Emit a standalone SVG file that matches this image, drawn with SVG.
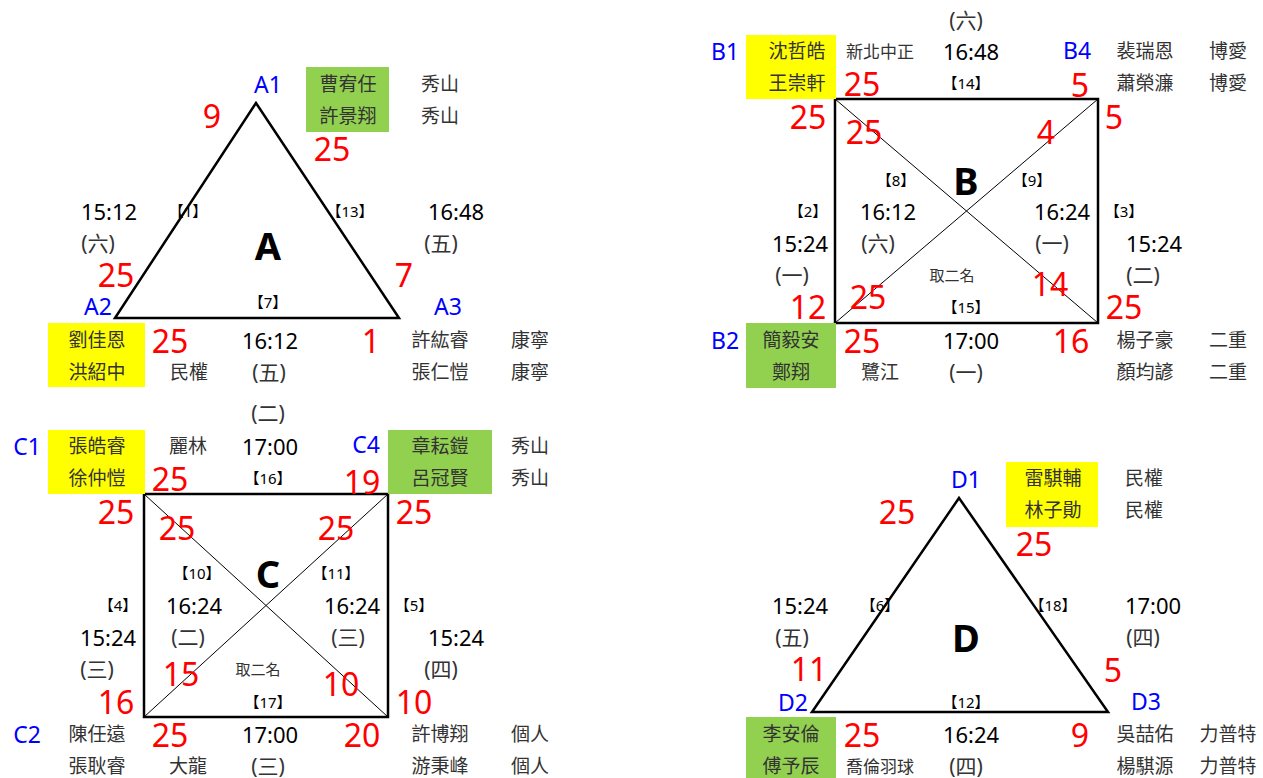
<svg xmlns="http://www.w3.org/2000/svg" width="1263" height="778" viewBox="0 0 1263 778">
<style>
text{font-family:"Noto Sans","Noto Sans CJK TC",sans-serif;text-anchor:middle;dominant-baseline:central}
.t{font-size:22px;fill:#000}
.p{font-size:21px;fill:#333}
.n{font-size:19px;fill:#333}
.r{font-size:32px;fill:#ff0000}
.b{font-size:23px;fill:#0000ff}
.s{font-size:15px;fill:#000}
.m{font-size:15px;fill:#333}
.big{font-size:38px;font-weight:bold;fill:#000}
.shape{fill:none;stroke:#000;stroke-width:2.5}
.diag{stroke:#000;stroke-width:1}
.y{fill:#ffff00}
.g{fill:#92d050}
</style>
<rect width="1263" height="778" fill="#fff"/>

<g id="connectors">
<polygon class="shape" points="256,103 115,318 399,318"/>
<rect class="shape" x="835" y="99" width="263" height="224"/>
<line class="diag" x1="835" y1="99" x2="1098" y2="323"/>
<line class="diag" x1="1098" y1="99" x2="835" y2="323"/>
<rect class="shape" x="144" y="494" width="244" height="223"/>
<line class="diag" x1="144" y1="494" x2="388" y2="717"/>
<line class="diag" x1="388" y1="494" x2="144" y2="717"/>
<polygon class="shape" points="959,498 812,712 1108,712"/>
</g>

<g id="poolA">
<text class="big" x="268" y="245">A</text>
<text class="b" x="268" y="84">A1</text>
<rect class="g" x="306" y="67" width="83" height="65"/>
<text class="n" x="348" y="84">曹宥任</text>
<text class="n" x="348" y="116">許景翔</text>
<text class="n" x="440" y="84">秀山</text>
<text class="n" x="440" y="116">秀山</text>
<text class="r" x="212" y="115">9</text>
<text class="r" x="332" y="148">25</text>
<text class="t" x="109" y="211">15:12</text>
<text class="p" x="98" y="243">(六)</text>
<text class="s" x="188" y="211">【1】</text>
<text class="s" x="350" y="211">【13】</text>
<text class="t" x="456" y="211">16:48</text>
<text class="p" x="441" y="243">(五)</text>
<text class="r" x="116" y="274">25</text>
<text class="r" x="404" y="274">7</text>
<text class="b" x="98" y="306">A2</text>
<text class="b" x="448" y="306">A3</text>
<text class="s" x="268" y="302">【7】</text>
<rect class="y" x="48" y="323" width="97" height="64"/>
<text class="n" x="97" y="340">劉佳恩</text>
<text class="n" x="97" y="372">洪紹中</text>
<text class="r" x="170" y="340">25</text>
<text class="t" x="270" y="340">16:12</text>
<text class="n" x="189" y="372">民權</text>
<text class="p" x="269" y="372">(五)</text>
<text class="r" x="371" y="340">1</text>
<text class="n" x="440" y="340">許紘睿</text>
<text class="n" x="440" y="372">張仁愷</text>
<text class="n" x="530" y="340">康寧</text>
<text class="n" x="530" y="372">康寧</text>
</g>

<g id="poolB">
<text class="big" x="966" y="180">B</text>
<text class="p" x="966" y="20">(六)</text>
<text class="b" x="725" y="51">B1</text>
<rect class="y" x="746" y="35" width="90" height="64"/>
<text class="n" x="797" y="51">沈哲皓</text>
<text class="n" x="797" y="83">王崇軒</text>
<text class="m" x="880" y="51" style="font-size:17px">新北中正</text>
<text class="t" x="971" y="51">16:48</text>
<text class="b" x="1077" y="50">B4</text>
<text class="n" x="1145" y="51">裴瑞恩</text>
<text class="n" x="1228" y="51">博愛</text>
<text class="r" x="862" y="83">25</text>
<text class="s" x="966" y="83">【14】</text>
<text class="r" x="1080" y="84">5</text>
<text class="n" x="1145" y="83">蕭榮濂</text>
<text class="n" x="1228" y="83">博愛</text>
<text class="r" x="808" y="116">25</text>
<text class="r" x="864" y="131">25</text>
<text class="r" x="1046" y="131">4</text>
<text class="r" x="1114" y="116">5</text>
<text class="s" x="896" y="180">【8】</text>
<text class="s" x="1032" y="180">【9】</text>
<text class="s" x="808" y="211">【2】</text>
<text class="t" x="888" y="211">16:12</text>
<text class="t" x="1062" y="211">16:24</text>
<text class="s" x="1124" y="211">【3】</text>
<text class="t" x="800" y="243">15:24</text>
<text class="p" x="878" y="243">(六)</text>
<text class="p" x="1052" y="243">(一)</text>
<text class="t" x="1154" y="243">15:24</text>
<text class="p" x="792" y="275">(一)</text>
<text class="m" x="952" y="275">取二名</text>
<text class="r" x="1050" y="283">14</text>
<text class="p" x="1143" y="275">(二)</text>
<text class="r" x="808" y="306">12</text>
<text class="r" x="868" y="296">25</text>
<text class="s" x="966" y="307">【15】</text>
<text class="r" x="1124" y="306">25</text>
<text class="b" x="725" y="340">B2</text>
<rect class="g" x="746" y="323" width="90" height="65"/>
<text class="n" x="791" y="340">簡毅安</text>
<text class="n" x="791" y="372">鄭翔</text>
<text class="r" x="862" y="340">25</text>
<text class="t" x="971" y="340">17:00</text>
<text class="r" x="1071" y="340">16</text>
<text class="n" x="1145" y="340">楊子豪</text>
<text class="n" x="1228" y="340">二重</text>
<text class="n" x="880" y="372">鷺江</text>
<text class="p" x="966" y="372">(一)</text>
<text class="n" x="1145" y="372">顏均諺</text>
<text class="n" x="1228" y="372">二重</text>
</g>

<g id="poolC">
<text class="big" x="268" y="573">C</text>
<text class="p" x="268" y="413">(二)</text>
<text class="b" x="27" y="446">C1</text>
<rect class="y" x="48" y="430" width="97" height="64"/>
<text class="n" x="97" y="446">張皓睿</text>
<text class="n" x="97" y="478">徐仲愷</text>
<text class="n" x="188" y="446">麗林</text>
<text class="t" x="270" y="446">17:00</text>
<text class="b" x="366" y="444">C4</text>
<rect class="g" x="388" y="430" width="104" height="64"/>
<text class="n" x="440" y="446">章耘鎧</text>
<text class="n" x="440" y="478">呂冠賢</text>
<text class="n" x="530" y="446">秀山</text>
<text class="n" x="530" y="478">秀山</text>
<text class="r" x="170" y="478">25</text>
<text class="s" x="268" y="478">【16】</text>
<text class="r" x="362" y="481">19</text>
<text class="r" x="116" y="511">25</text>
<text class="r" x="177" y="527">25</text>
<text class="r" x="336" y="527">25</text>
<text class="r" x="414" y="511">25</text>
<text class="s" x="197" y="573">【10】</text>
<text class="s" x="336" y="573">【11】</text>
<text class="s" x="118" y="605">【4】</text>
<text class="t" x="194" y="605">16:24</text>
<text class="t" x="352" y="605">16:24</text>
<text class="s" x="414" y="605">【5】</text>
<text class="t" x="108" y="637">15:24</text>
<text class="p" x="188" y="637">(二)</text>
<text class="p" x="348" y="637">(三)</text>
<text class="t" x="456" y="637">15:24</text>
<text class="p" x="97" y="669">(三)</text>
<text class="r" x="181" y="673">15</text>
<text class="m" x="258" y="669">取二名</text>
<text class="r" x="341" y="683">10</text>
<text class="p" x="441" y="669">(四)</text>
<text class="r" x="116" y="701">16</text>
<text class="s" x="268" y="702">【17】</text>
<text class="r" x="414" y="701">10</text>
<text class="b" x="27" y="734">C2</text>
<text class="n" x="97" y="734">陳任遠</text>
<text class="r" x="170" y="734">25</text>
<text class="t" x="270" y="734">17:00</text>
<text class="r" x="362" y="734">20</text>
<text class="n" x="440" y="734">許博翔</text>
<text class="n" x="530" y="734">個人</text>
<text class="n" x="97" y="766">張耿睿</text>
<text class="n" x="188" y="766">大龍</text>
<text class="p" x="268" y="766">(三)</text>
<text class="n" x="440" y="766">游秉峰</text>
<text class="n" x="530" y="766">個人</text>
</g>

<g id="poolD">
<text class="big" x="966" y="637">D</text>
<text class="b" x="966" y="479">D1</text>
<rect class="y" x="1006" y="462" width="92" height="65"/>
<text class="n" x="1053" y="478">雷騏輔</text>
<text class="n" x="1053" y="510">林子勛</text>
<text class="n" x="1144" y="478">民權</text>
<text class="n" x="1144" y="510">民權</text>
<text class="r" x="897" y="511">25</text>
<text class="r" x="1034" y="543">25</text>
<text class="t" x="800" y="605">15:24</text>
<text class="s" x="880" y="605">【6】</text>
<text class="s" x="1053" y="605">【18】</text>
<text class="t" x="1153" y="605">17:00</text>
<text class="p" x="792" y="637">(五)</text>
<text class="p" x="1143" y="637">(四)</text>
<text class="r" x="809" y="668">11</text>
<text class="r" x="1113" y="669">5</text>
<text class="b" x="793" y="702">D2</text>
<text class="s" x="966" y="702">【12】</text>
<text class="b" x="1146" y="701">D3</text>
<rect class="g" x="746" y="717" width="90" height="61"/>
<text class="n" x="791" y="734">李安倫</text>
<text class="n" x="791" y="766">傅予辰</text>
<text class="r" x="862" y="734">25</text>
<text class="t" x="971" y="734">16:24</text>
<text class="r" x="1080" y="734">9</text>
<text class="n" x="1145" y="734">吳喆佑</text>
<text class="n" x="1228" y="734">力普特</text>
<text class="n" x="880" y="766" style="font-size:17px">喬倫羽球</text>
<text class="p" x="966" y="766">(四)</text>
<text class="n" x="1145" y="766">楊騏源</text>
<text class="n" x="1228" y="766">力普特</text>
</g>
</svg>
